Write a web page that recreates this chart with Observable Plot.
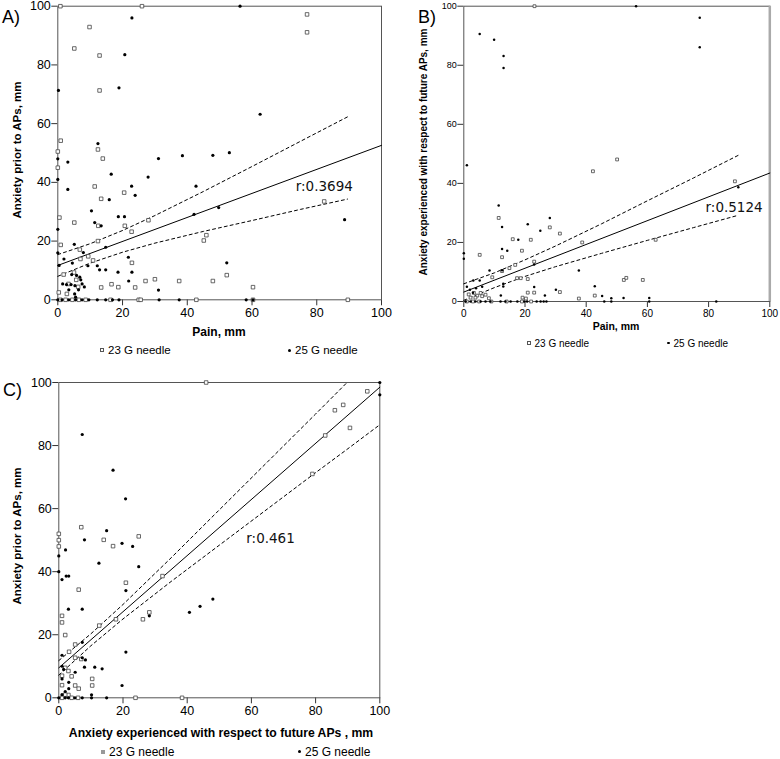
<!DOCTYPE html>
<html><head><meta charset="utf-8">
<script src="https://cdn.jsdelivr.net/npm/d3@7"></script>
<script src="https://cdn.jsdelivr.net/npm/@observablehq/plot@0.6"></script>
<style>
body{margin:0;background:#fff;}
#root{position:relative;width:780px;height:759px;font-family:"Liberation Sans",Arial,sans-serif;color:#000;overflow:hidden;}
.abs{position:absolute;white-space:nowrap;}
.sq{display:inline-block;box-sizing:border-box;border:1px solid #555;background:#fff;vertical-align:middle;}
.dt{display:inline-block;border-radius:50%;background:#000;vertical-align:middle;}
</style></head><body><div id="root"></div>
<script>
// ---------- tick labels ----------
const ticks = [0, 20, 40, 60, 80, 100];

// ---------- Panel A: Pain vs Anxiety prior to APs ----------
const aX23 = [0.8,26,9.8,5.1,12.9,12.9,0.9,12.4,13.9,77,77,11.4,20.5,13.4,28,5.1,12.5,20.7,22.8,45.1,45.9,12.4,0.9,6.8,10.9,9.4,7.0,22.9,23.9,13.4,16.6,18.7,27.1,30.0,37.5,47.9,52.2,82.3,60.3,60.3,89.6,1.8,3.3,5.0,5.7,6.3,2.8,0.3,0.8,2.4,4.5,6.5,8.6,16.3,25,25.6,42.8,0,0,0.5];
const aY23 = [100,100,92.9,85.6,83.2,71.3,54.2,51.2,48.1,97.2,91.1,38.6,36.5,34.4,27.1,26.3,25.2,25.2,23.2,20.2,22.0,20.0,18.7,17.1,13.4,14.8,13.9,12.6,4.2,4.2,5.3,4.3,6.4,7.0,6.4,6.4,8.4,33.5,4.3,0,0,8.6,5.4,9.3,6.8,4.4,2.0,2.5,0,0,0,0,0,0,0,0,0,50.5,45,28];
const aX25 = [56.3,22.9,20.7,18.9,0.2,12.4,31.1,38.5,47.9,53.0,62.5,3.1,3.1,16.5,27.9,22.8,42.7,23.9,15.9,10.4,49.7,42.1,18.7,20.6,11.4,13.4,5.1,7.9,14.8,1.9,4.5,21.8,12.9,14.8,18.6,22.9,12.2,9.3,21.9,31.1,52.2,88.6,0.4,1.5,2.7,4.1,5.3,4.3,5.8,6.8,7.1,7.5,8.2,6.4,3.4,5.2,5.5,0,0,0,0,0,1.3,3.4,5.5,7.5,9.6,12.2,14.8,16.9,18.9,31.3,37.5,58.2,60.3];
const aY25 = [100,96.0,83.5,72.2,71.3,53.2,48.1,49.1,49.2,50.1,63.2,46.9,37.6,42.8,41.8,38.7,38.7,35.6,34.1,30.3,31.4,29.1,28.3,28.3,26.3,25.2,18.9,16.1,17.9,13.9,12.5,14.5,10.2,10.2,9.4,9.4,11.6,11.6,6.4,3.3,12.6,27.3,11.7,5.4,5.2,5.2,4.8,8.6,8.3,7.7,6.8,5.4,4.4,3.4,3.4,2.0,0.9,48,41,24,16,0,0,0,0,0,0,0,0,0,0,0,0,0,0];
const aFitX = [0, 100], aFitY = [11.7, 52.6];
const aCiX = [0, 10, 20, 30, 45, 60, 75, 89.5];
const aUpY = [15.4, 19.1, 23.6, 28.7, 36.9, 45.4, 54.0, 62.3];
const aLoY = [8.0, 12.5, 16.2, 19.3, 23.3, 27.0, 30.8, 34.3];

// ---------- Panel B: Pain vs Anxiety about future APs ----------
const bX23 = [42.2,50.1,11.4,28.1,31.4,16.0,21.9,38.7,19.0,5.2,12.5,23.0,14.9,16.8,12.5,17.4,18.6,9.3,20.9,20.9,23.0,31.4,8.2,19.2,20.3,37.6,42.8,88.6,62.7,52.3,53.1,58.5,23.1,1.6,3.3,4.4,5.5,2.2,3.8,6.0,7.1,1,3,5,9,14,19,22];
const bY23 = [44.1,48.1,28.3,25.1,23.0,21.1,20.9,20.0,17.2,15.8,15.0,13.5,11.3,12.4,10.3,7.9,7.9,8.2,7.6,3.0,3.0,3.2,1.1,1.3,1.0,1.0,2.0,40.7,20.9,7.3,8.0,7.3,100,2.4,2.9,2.0,2.9,1.3,1.3,1.8,2.3,0,0,0,0,0,0,0];
const bX25 = [5.2,9.9,13.0,13.0,77.1,77.1,56.3,1.0,11.4,28.1,20.9,12.5,25.0,17.8,12.5,14.2,0,0,23.0,12.5,8.4,37.6,3.1,5.2,12.9,12.9,23.0,30.1,12.1,26.5,42.8,45.2,48.2,48.2,52.2,45.9,60.6,60.6,82.5,89.7,1,2,3,4,6,0.6,2.2,3.8,5.5,7.1,8.7,12,13.6,15.3,17.5,19.8,20.7,23.8,25.1,26.1,27.0];
const bY25 = [90.6,88.6,83.1,79.1,96.1,86.1,100,46.1,32.5,28.3,26.2,25.2,24.0,20.9,17.8,17.2,16.3,14.5,12.5,10.6,10.5,10.5,7.1,7.1,6.0,5.1,4.9,4.0,2.0,2.0,5.2,1.9,1.1,0,1.2,0,1.2,0,0,38.7,5,4,3,4.5,5,0,0,0,0,0,0,0,0,0,0,0,0,0,0,0,0];
const bFitX = [0, 100], bFitY = [3.2, 43.5];
const bCiX = [0, 10, 20, 30, 45, 60, 75, 89.7];
const bUpY = [6.0, 9.7, 14.1, 18.8, 26.3, 34.1, 41.8, 49.5];
const bLoY = [0.4, 4.7, 8.5, 11.8, 16.3, 20.7, 25.0, 29.2];

// ---------- Panel C: Anxiety about future APs vs Anxiety prior to APs ----------
const cX23 = [45.9,7.0,24.9,14.0,16.9,32.3,20.9,6.2,28.2,26.2,17.8,12.6,1.0,1.0,2.0,5.1,3.2,7.0,5.1,4.0,10.4,10.4,5.1,6.2,3.0,23.9,38.4,96.1,88.6,86.0,90.7,83.0,79.0,0,0,0,2,3,1,1,2,1,4,6];
const cY23 = [100,54.1,51.2,50.1,48.1,38.6,36.5,34.3,27.1,24.9,24.9,22.9,26.0,23.9,19.9,16.9,14.6,12.3,12.7,6.8,6.0,3.9,3.9,2.9,0.9,0,0,97.2,92.9,91.2,85.6,83.2,71.0,52,50,48,9.5,8.5,7,4,1,0,0,0];
const cX25 = [7.3,16.9,20.8,14.9,8.0,19.7,23.0,2.1,12.5,24.9,1.0,2.3,3.1,20.9,48.0,44.0,40.7,3.0,7.3,28.2,20.9,7.3,7.3,8.3,8.0,11.2,13.5,5.1,3.1,3.1,19.7,10.2,7.3,10.2,14.9,100,100,0,0,1,1,1.5,1,2,1,0,2,3,5];
const cY25 = [83.5,72.2,63.1,53.0,50.1,49.0,48.0,46.9,42.7,41.6,37.5,38.6,38.6,34.0,31.3,29.0,27.1,28.1,28.1,26.0,14.5,17.6,12.7,12.0,9.7,9.7,9.2,8.1,4.9,2.9,3.9,0.95,0,0,0,100,96.1,45,40,13.5,10,9,6,2,1,0,0,0,0];
const cFitX = [0, 100], cFitY = [9.5, 98.5];
const cUpX = [0, 10, 20, 35, 50, 65, 80, 89.8];
const cUpY = [11.8, 20.3, 29.6, 44.4, 59.6, 74.8, 90.0, 100];
const cLoX = [0, 10, 20, 35, 50, 65, 80, 89.8, 100];
const cLoY = [7.2, 16.5, 25.0, 36.9, 48.4, 59.9, 71.4, 78.8, 86.6];

const rLabels = ["r:0.3694", "r:0.5124", "r:0.461"];

// ---------- helpers ----------
const pts = (xs, ys) => xs.map((x, i) => ({x, y: ys[i]}));
const root = document.getElementById("root");

function panel(c) {
  const marks = [
    Plot.axisX({ticks, tickSize: 6, tickPadding: 2, fontSize: c.xf, label: null, stroke: "#333"}),
    Plot.axisY({ticks, tickSize: 6, tickPadding: 1, fontSize: c.yf, label: null, stroke: "#333"}),
    Plot.frame({stroke: "#555", strokeWidth: 1})
  ];
  if (c.rightRule) marks.push(Plot.ruleX([100], {stroke: "#aaa", strokeWidth: 2.5}));
  marks.push(
    Plot.line(pts(c.upX, c.upY), {x: "x", y: "y", stroke: "#000", strokeWidth: 1, strokeDasharray: "3,3"}),
    Plot.line(pts(c.loX, c.loY), {x: "x", y: "y", stroke: "#000", strokeWidth: 1, strokeDasharray: "3,3"}),
    Plot.line(pts(c.fitX, c.fitY), {x: "x", y: "y", stroke: "#000", strokeWidth: 1}),
    Plot.dot(pts(c.x23, c.y23), {x: "x", y: "y", symbol: "square", r: c.sq, fill: "#fff", stroke: "#444", strokeWidth: 0.8}),
    Plot.dot(pts(c.x25, c.y25), {x: "x", y: "y", r: c.dr, fill: "#000", stroke: "none"}),
    Plot.text([c.r], {x: c.rx, y: c.ry, text: d => d, textAnchor: "start", fontSize: 13.5, fontFamily: "DejaVu Sans", fill: "#111"})
  );
  const svg = Plot.plot({
    width: c.w, height: c.h,
    marginLeft: c.ml, marginRight: c.mr, marginTop: c.mt, marginBottom: c.mb,
    x: {domain: [0, 100]}, y: {domain: [0, 100]},
    style: {fontFamily: "'Liberation Sans', Arial, sans-serif", background: "transparent", overflow: "visible", color: "#000"},
    marks
  });
  svg.style.position = "absolute";
  svg.style.left = c.left + "px";
  svg.style.top = c.top + "px";
  root.appendChild(svg);
}

function txt(s, x, baseline, size, opts = {}) {
  const d = document.createElement("div");
  d.className = "abs";
  d.textContent = s;
  d.style.fontSize = size + "px";
  d.style.lineHeight = size + "px";
  d.style.fontWeight = opts.bold ? "bold" : "normal";
  if (opts.family) d.style.fontFamily = opts.family;
  if (opts.rotate) {
    d.style.left = x + "px";
    d.style.top = baseline + "px";
    d.style.transform = "translate(-50%,-50%) rotate(-90deg)";
  } else {
    d.style.left = x + "px";
    d.style.top = (baseline - 0.8465 * size) + "px";
    if (opts.center) d.style.transform = "translateX(-50%)";
  }
  root.appendChild(d);
  return d;
}

function legendItem(kind, x, baseline, size, label, markSize, fill) {
  const d = document.createElement("div");
  d.className = "abs";
  d.style.fontSize = size + "px";
  d.style.lineHeight = size + "px";
  d.style.left = x + "px";
  d.style.top = (baseline - 0.8465 * size) + "px";
  const m = document.createElement("span");
  m.className = kind === "sq" ? "sq" : "dt";
  m.style.width = markSize + "px";
  m.style.height = markSize + "px";
  m.style.marginRight = "4px";
  m.style.position = "relative";
  m.style.top = "-1px";
  if (fill) { m.style.background = fill; m.style.borderColor = fill; }
  d.appendChild(m);
  d.appendChild(document.createTextNode(label));
  root.appendChild(d);
}

// ---------- panels ----------
panel({left: 0, top: 0, w: 410, h: 330, ml: 57.3, mr: 29, mt: 5.7, mb: 30.7, xf: 12.5, yf: 12.5,
  x23: aX23, y23: aY23, x25: aX25, y25: aY25, fitX: aFitX, fitY: aFitY,
  upX: aCiX, upY: aUpY, loX: aCiX, loY: aLoY, sq: 2.0, dr: 1.6, r: rLabels[0], rx: 73.5, ry: 38.6});

panel({left: 420, top: 0, w: 360, h: 330, ml: 43.3, mr: 10.7, mt: 5.7, mb: 29, xf: 10, yf: 9, rightRule: true,
  x23: bX23, y23: bY23, x25: bX25, y25: bY25, fitX: bFitX, fitY: bFitY,
  upX: bCiX, upY: bUpY, loX: bCiX, loY: bLoY, sq: 1.6, dr: 1.25, r: rLabels[1], rx: 79, ry: 31.7});

panel({left: 0, top: 370, w: 410, h: 360, ml: 58.3, mr: 30.7, mt: 12, mb: 32.7, xf: 12.5, yf: 12.5,
  x23: cX23, y23: cY23, x25: cX25, y25: cY25, fitX: cFitX, fitY: cFitY,
  upX: cUpX, upY: cUpY, loX: cLoX, loY: cLoY, sq: 2.0, dr: 1.6, r: rLabels[2], rx: 58.4, ry: 50.4});

// ---------- panel letters ----------
txt("A)", 2, 23.5, 18);
txt("B)", 418, 23.5, 18);
txt("C)", 3, 396, 18);

// ---------- axis titles ----------
txt("Anxiety prior to APs, mm", 17.5, 150, 11.5, {bold: true, rotate: true});
txt("Pain, mm", 219, 336, 12, {bold: true, center: true});
txt("Anxiety experienced with respect to future APs, mm", 424, 152, 10, {bold: true, rotate: true});
txt("Pain, mm", 616, 330, 10.5, {bold: true, center: true});
txt("Anxiety prior to APs, mm", 17.5, 536, 11.5, {bold: true, rotate: true});
txt("Anxiety experienced with respect to future APs , mm", 221, 737, 12.2, {bold: true, center: true});

// ---------- legends ----------
legendItem("sq", 100, 355, 11.5, "23 G needle", 4);
legendItem("dt", 288, 355, 11.5, "25 G needle", 3);
legendItem("sq", 527, 347, 10, "23 G needle", 3.5);
legendItem("dt", 667, 347, 10, "25 G needle", 2.5);
legendItem("sq", 101, 756, 12, "23 G needle", 4, "#999");
legendItem("dt", 298, 756, 12, "25 G needle", 3);
</script></body></html>
